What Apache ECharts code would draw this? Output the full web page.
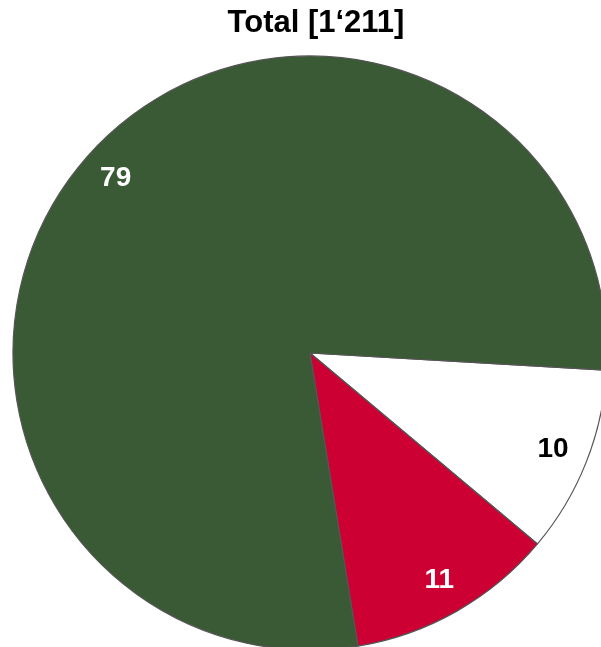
<!DOCTYPE html>
<html><head><meta charset="utf-8">
<script src="https://cdn.jsdelivr.net/npm/echarts@6/dist/echarts.min.js"></script>
<style>html,body{margin:0;padding:0;background:#fff}#c{width:601px;height:647px}</style>
</head><body><div id="c"></div>
<script>
const titleText = 'Total [1‘211]';
const categories = ['A', 'B', 'C'];
const values = [10.2, 11.3, 78.5];
const labels = ['10', '11', '79'];
const colors = ['#FFFFFF', '#CC0033', '#3A5935'];
const labelColors = ['#000000', '#FFFFFF', '#FFFFFF'];

const chart = echarts.init(document.getElementById('c'));
const baseData = categories.map((c, i) => ({name: c, value: values[i], itemStyle: {color: colors[i]}}));
const labelData = categories.map((c, i) => ({name: c, value: values[i],
  label: {color: labelColors[i], formatter: labels[i]}}));
chart.setOption({
  animation: false,
  title: {text: titleText, left: 311, textAlign: 'center', top: 3,
    textStyle: {fontFamily: 'Liberation Sans', fontWeight: 'bold', fontSize: 31, color: '#000'}},
  series: [{
    type: 'pie', center: [310, 353], radius: [0, 297], startAngle: -3.3, clockwise: true,
    label: {show: false}, labelLine: {show: false}, silent: true,
    itemStyle: {borderColor: '#555555', borderWidth: 1.2},
    data: baseData
  }, {
    type: 'pie', center: [310, 353], radius: [220, 297], startAngle: -3.3, clockwise: true,
    silent: true, itemStyle: {color: 'rgba(0,0,0,0)'}, labelLine: {show: false},
    label: {show: true, position: 'inside',
      fontFamily: 'Liberation Sans', fontWeight: 'bold', fontSize: 28},
    data: labelData
  }]
});
</script></body></html>
